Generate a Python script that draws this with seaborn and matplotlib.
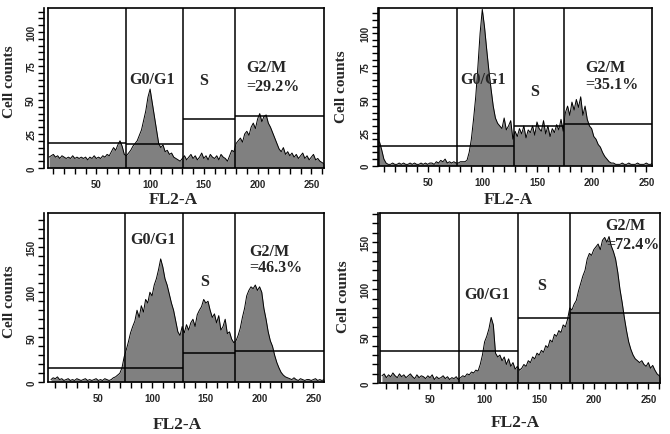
import numpy as np
import pandas as pd
import matplotlib
matplotlib.use("Agg")
import matplotlib.pyplot as plt
import seaborn as sns
from matplotlib.ticker import MultipleLocator

sns.set_style("ticks")
plt.rcParams['font.family'] = ['Liberation Serif', 'DejaVu Serif']

# ---------------- data ----------------
channel_start = 6
channel_step = 2

counts_a = [8, 9, 10, 8, 9, 7, 9, 8, 7, 8,
            7, 9, 7, 8, 7, 8, 7, 8, 6, 8,
            7, 9, 7, 8, 7, 9, 8, 10, 9, 12,
            15, 13, 17, 20, 16, 10, 9, 11, 13, 16,
            18, 20, 24, 28, 35, 42, 52, 58, 48, 38,
            28, 18, 15, 17, 12, 13, 10, 11, 8, 7,
            6, 5, 7, 9, 6, 8, 10, 7, 9, 6,
            8, 11, 7, 9, 6, 10, 8, 7, 9, 6,
            10, 8, 7, 5, 9, 13, 12, 18, 20, 22,
            19, 25, 27, 24, 30, 33, 29, 36, 40, 34,
            38, 39, 33, 30, 26, 22, 18, 14, 12, 15,
            10, 12, 9, 11, 8, 10, 7, 9, 11, 7,
            9, 6, 8, 10, 6, 7, 5, 4, 3]

counts_b = [18, 12, 5, 2, 1, 1, 2, 1, 1, 2,
            1, 2, 1, 1, 2, 1, 2, 1, 1, 2,
            1, 2, 1, 2, 2, 1, 3, 2, 4, 3,
            5, 2, 3, 2, 3, 2, 2, 3, 3, 3,
            4, 10, 20, 35, 52, 75, 100, 118, 105, 88,
            72, 58, 45, 36, 32, 30, 28, 36, 27, 30,
            34, 20, 26, 22, 28, 24, 30, 21, 27, 25,
            30, 23, 33, 28, 26, 34, 24, 30, 22, 28,
            25, 31, 27, 35, 26, 40, 45, 38, 48, 42,
            50, 44, 52, 38, 45, 35, 30, 28, 22, 20,
            16, 14, 10, 7, 5, 3, 2, 2, 1, 1,
            1, 2, 1, 1, 2, 1, 1, 1, 2, 1,
            1, 1, 2, 1, 1, 2, 1, 0, 0]

counts_c = [3, 5, 4, 6, 3, 4, 2, 3, 4, 2,
            3, 2, 4, 3, 2, 3, 4, 2, 3, 2,
            3, 4, 2, 3, 2, 4, 3, 2, 3, 5,
            6, 8, 10, 16, 28, 36, 45, 55, 62, 68,
            80, 72, 85, 78, 92, 88, 100, 96, 108, 115,
            125, 137, 128, 115, 108, 98, 88, 80, 68, 56,
            52, 62, 55, 64, 58, 66, 70, 62, 75, 80,
            84, 92, 88, 90, 80, 72, 76, 66, 74, 58,
            62, 70, 54, 56, 48, 44, 46, 52, 60, 72,
            82, 96, 102, 106, 104, 108, 102, 106, 100, 82,
            70, 56, 46, 40, 30, 22, 16, 11, 8, 6,
            5, 4, 3, 5, 3, 2, 4, 3, 2, 3,
            3, 2, 3, 4, 2, 3, 2, 3, 2]

counts_d = [8, 10, 6, 9, 7, 11, 8, 6, 10, 7,
            9, 6, 8, 10, 7, 5, 9, 6, 8, 7,
            5, 8, 6, 9, 4, 7, 5, 6, 8, 5,
            7, 4, 6, 5, 7, 4, 6, 8, 7, 10,
            9, 12, 11, 14, 13, 20, 30, 44, 50, 58,
            70, 62, 32, 28, 30, 24, 28, 20, 26, 18,
            22, 15, 18, 14, 16, 20, 18, 24, 22, 28,
            26, 32, 30, 35, 33, 40, 38, 46, 44, 52,
            50, 56, 54, 62, 60, 68, 80, 78, 84, 88,
            98, 106, 114, 120, 132, 138, 136, 142, 145, 148,
            142, 152, 155, 150, 156, 146, 140, 132, 118, 100,
            86, 70, 56, 44, 36, 30, 26, 24, 22, 24,
            20, 18, 22, 16, 19, 14, 10, 8, 5]

# gate boundaries (FL2-A) and gate marker levels (cell counts) per panel
gates_a = [77.3, 130.4, 178.9]
levels_a = [18.4, 17.4, 36, 38.5]
gates_b = [76.5, 129, 175]
levels_b = [14.5, 14.5, 30, 31.5]
gates_c = [75.1, 128.8, 177.1]
levels_c = [15.6, 15.6, 32.6, 34.4]
gates_d = [76.6, 130.3, 178.2]
levels_d = [34, 34, 69.5, 75.2]

gm_labels = ["=29.2%", "=35.1%", "=46.3%", "=72.4%"]
phase_labels = ["G0/G1", "S", "G2/M"]

# ---------------- layout ----------------
panels = [
    dict(counts=counts_a, gates=gates_a, levels=levels_a, pct=gm_labels[0],
         rect=[0.0716, 0.6115, 0.412, 0.3678], xlim=(5, 261.8), ylim=(0, 117.6),
         ymaj=25, ymin=5, yoff=3.0,
         g1=(101.9, 65.4), s=(150, 65), g2=(189.7, 74), pc=(189.7, 60.5),
         ylab=(-0.138, 0.544), xlab=(0.453, -0.194)),
    dict(counts=counts_b, gates=gates_b, levels=levels_b, pct=gm_labels[1],
         rect=[0.5661, 0.6168, 0.4075, 0.3625], xlim=(5.8, 255.5), ylim=(0, 119),
         ymaj=25, ymin=5, yoff=0.8,
         g1=(100.9, 65.5), s=(148, 56.7), g2=(194.5, 74.8), pc=(194.5, 61.7),
         ylab=(-0.137, 0.507), xlab=(0.471, -0.211)),
    dict(counts=counts_c, gates=gates_c, levels=levels_c, pct=gm_labels[2],
         rect=[0.0721, 0.1189, 0.4115, 0.3892], xlim=(3.5, 259.9), ylim=(0, 188),
         ymaj=50, ymin=10, yoff=3.0,
         g1=(100.5, 159), s=(149, 113), g2=(190.5, 146), pc=(190.5, 128),
         ylab=(-0.139, 0.482), xlab=(0.466, -0.246)),
    dict(counts=counts_d, gates=gates_d, levels=levels_d, pct=gm_labels[3],
         rect=[0.5672, 0.1166, 0.4179, 0.3915], xlim=(4.2, 260.7), ylim=(0, 181),
         ymaj=50, ymin=10, yoff=1.5,
         g1=(102.5, 95), s=(152.3, 104), g2=(210.3, 167.7), pc=(211.8, 148),
         ylab=(-0.132, 0.514), xlab=(0.482, -0.227)),
]

fig = plt.figure(figsize=(6.7, 4.35), dpi=100)
fig.patch.set_facecolor("white")

label_font = dict(family=['Liberation Serif', 'DejaVu Serif'], fontweight='bold')
tick_font = dict(family=['Liberation Sans', 'DejaVu Sans'], weight='bold', size=7)

for p in panels:
    ax = fig.add_axes(p["rect"])
    counts = np.asarray(p["counts"], dtype=float)
    channels = channel_start + channel_step * np.arange(len(counts))
    df = pd.DataFrame({"FL2-A": channels, "Cell counts": counts})

    ax.fill_between(df["FL2-A"], df["Cell counts"], color="#808080", lw=0, zorder=1)
    sns.lineplot(data=df, x="FL2-A", y="Cell counts", ax=ax, color="black",
                 lw=0.7, zorder=2)

    x0, x1 = p["xlim"]
    ax.set_xlim(x0, x1)
    ax.set_ylim(*p["ylim"])

    # gates
    bounds = [x0] + list(p["gates"]) + [x1]
    for g in p["gates"]:
        ax.axvline(g, color="black", lw=1.1, zorder=3)
    for i, lv in enumerate(p["levels"]):
        ax.hlines(lv, bounds[i], bounds[i + 1], color="black", lw=1.1, zorder=3)

    # frame
    for side in ["top", "right", "bottom", "left"]:
        ax.spines[side].set_visible(True)
        ax.spines[side].set_linewidth(1.2)
        ax.spines[side].set_color("black")
    ax.spines["left"].set_position(("outward", p["yoff"]))
    if p["yoff"] > 0:
        ax.axvline(x0, color="black", lw=1.2, clip_on=False, zorder=4)

    # ticks
    ax.xaxis.set_major_locator(MultipleLocator(50))
    ax.xaxis.set_minor_locator(MultipleLocator(10))
    ax.yaxis.set_major_locator(MultipleLocator(p["ymaj"]))
    ax.yaxis.set_minor_locator(MultipleLocator(p["ymin"]))
    ax.tick_params(which="both", direction="out", length=4, width=1.0, color="black")
    ax.tick_params(axis="x", which="major", pad=4)
    ax.tick_params(axis="y", which="major", pad=1.5)
    for lab in ax.get_xticklabels():
        lab.set(**tick_font)
    for lab in ax.get_yticklabels():
        lab.set(**tick_font)
        lab.set_rotation(90)
        lab.set_va("center")

    # axis labels
    ax.set_xlabel("FL2-A", fontsize=12.5, va="center", **label_font)
    ax.xaxis.set_label_coords(*p["xlab"])
    ax.set_ylabel("Cell counts", fontsize=11, va="center", ha="center", **label_font)
    ax.yaxis.set_label_coords(*p["ylab"])

    # phase annotations
    ax.text(*p["g1"], phase_labels[0], ha="center", va="center", fontsize=11.5,
            zorder=5, **label_font)
    ax.text(*p["s"], phase_labels[1], ha="center", va="center", fontsize=11.5,
            zorder=5, **label_font)
    ax.text(*p["g2"], phase_labels[2], ha="left", va="center", fontsize=11.5,
            zorder=5, **label_font)
    ax.text(*p["pc"], p["pct"], ha="left", va="center", fontsize=11.5,
            zorder=5, **label_font)

fig.savefig("out.png", dpi=100, facecolor="white")
